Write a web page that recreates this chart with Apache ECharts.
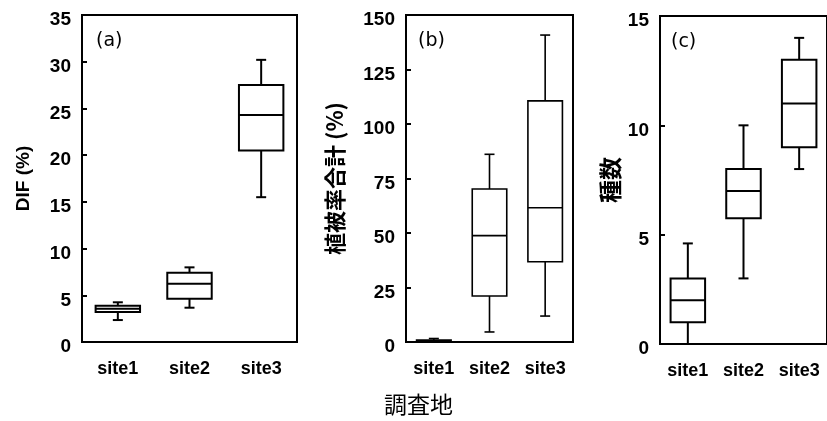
<!DOCTYPE html>
<html>
<head>
<meta charset="utf-8">
<script src="https://cdn.jsdelivr.net/npm/echarts@6/dist/echarts.min.js"></script>
<style>html,body{margin:0;padding:0;background:#fff;}#c{width:827px;height:421px;}</style>
</head>
<body>
<div id="c"></div>
<script>
// Data: [min, Q1, median, Q3, max] for each site
const categories = ['site1', 'site2', 'site3'];
const difStats = [
  [2.35, 3.2, 3.56, 3.88, 4.25],
  [3.67, 4.63, 6.24, 7.41, 7.99],
  [15.5, 20.5, 24.3, 27.5, 30.2]
];
const coverStats = [
  [0, 0.3, 0.5, 0.9, 1.6],
  [4.6, 21.1, 48.8, 70.2, 86.1],
  [11.9, 36.8, 61.6, 110.6, 140.8]
];
const speciesStats = [
  [0, 1, 2, 3, 4.6],
  [3, 5.75, 7, 8, 10],
  [8, 9, 11, 13, 14]
];
const panelLabels = ['(a)', '(b)', '(c)'];
const yTitles = ['DIF (%)', '植被率合計 (%)', '種数'];
const xTitle = '調査地';

const latin = 'Liberation Sans';
const cjk = 'Noto Sans CJK JP';

function toData(stats) {
  return stats.map((s, i) => [i].concat(s));
}

function makeRender(lw, ratio, cap) {
  return function (params, api) {
    const c = api.value(0);
    const pMin = api.coord([c, api.value(1)]);
    const pQ1 = api.coord([c, api.value(2)]);
    const pMed = api.coord([c, api.value(3)]);
    const pQ3 = api.coord([c, api.value(4)]);
    const pMax = api.coord([c, api.value(5)]);
    const x = pMin[0];
    const bw = api.size([1, 0])[0] * ratio;
    const st = { stroke: '#000', lineWidth: lw, fill: null };
    return {
      type: 'group',
      children: [
        { type: 'line', shape: { x1: x, y1: pQ3[1], x2: x, y2: pMax[1] }, style: st },
        { type: 'line', shape: { x1: x, y1: pQ1[1], x2: x, y2: pMin[1] }, style: st },
        { type: 'line', shape: { x1: x - cap / 2, y1: pMax[1], x2: x + cap / 2, y2: pMax[1] }, style: st },
        { type: 'line', shape: { x1: x - cap / 2, y1: pMin[1], x2: x + cap / 2, y2: pMin[1] }, style: st },
        { type: 'rect', shape: { x: x - bw / 2, y: pQ3[1], width: bw, height: pQ1[1] - pQ3[1] },
          style: { stroke: '#000', lineWidth: lw, fill: '#fff' } },
        { type: 'line', shape: { x1: x - bw / 2, y1: pMed[1], x2: x + bw / 2, y2: pMed[1] }, style: st }
      ]
    };
  };
}

const grids = [
  { left: 82, top: 15, width: 215, height: 327 },
  { left: 406, top: 15, width: 167, height: 327 },
  { left: 660, top: 16, width: 177, height: 328 }
];
const yCfg = [
  { max: 35, interval: 5, gap: 49, font: latin, size: 19 },
  { max: 150, interval: 25, gap: 60, font: cjk, size: 22 },
  { max: 15, interval: 5, gap: 38, font: cjk, size: 23 }
];
const allStats = [difStats, coverStats, speciesStats];
const lineWidths = [2, 1.6, 2];
const panelPos = [[96, 32], [418, 32], [671, 33]];

const option = {
  animation: false,
  backgroundColor: '#fff',
  title: panelLabels.map((t, i) => ({
    text: t, left: panelPos[i][0], top: panelPos[i][1], padding: 0,
    textStyle: { fontFamily: 'DejaVu Sans', fontSize: 19, fontWeight: 'normal', color: '#000' }
  })).concat([
    { text: xTitle, left: 384, top: 393, padding: 0, textStyle: { fontFamily: cjk, fontSize: 23, fontWeight: 'normal', color: '#000' } }
  ]),
  grid: grids.map(g => Object.assign({ show: true, borderColor: '#000', borderWidth: 2, backgroundColor: 'transparent' }, g)),
  xAxis: grids.map((g, i) => ({
    type: 'category',
    gridIndex: i,
    data: categories,
    axisLine: { show: true, lineStyle: { color: '#000', width: 2 } },
    axisTick: { show: false },
    axisLabel: { color: '#000', fontFamily: latin, fontSize: 18, fontWeight: 'bold', margin: 18, interval: 0 },
    splitLine: { show: false }
  })),
  yAxis: yCfg.map((y, i) => ({
    type: 'value',
    gridIndex: i,
    min: 0,
    max: y.max,
    interval: y.interval,
    name: yTitles[i],
    nameLocation: 'middle',
    nameGap: y.gap,
    nameRotate: 90,
    nameTextStyle: { fontFamily: y.font, fontSize: y.size, fontWeight: 'bold', color: '#000' },
    axisLine: { show: true, lineStyle: { color: '#000', width: 2 } },
    axisTick: { show: true, inside: true, length: 5, lineStyle: { color: '#000', width: 2 } },
    axisLabel: { color: '#000', fontFamily: latin, fontSize: 19, fontWeight: 'bold', margin: 11, verticalAlign: 'top', lineHeight: 10 },
    splitLine: { show: false }
  })),
  series: allStats.map((s, i) => ({
    type: 'custom',
    xAxisIndex: i,
    yAxisIndex: i,
    renderItem: makeRender(lineWidths[i], 0.62, 10),
    encode: { x: 0, y: [1, 2, 3, 4, 5] },
    data: toData(s),
    clip: false
  }))
};

const chart = echarts.init(document.getElementById('c'), null, { renderer: 'canvas' });
chart.setOption(option);
</script>
</body>
</html>
